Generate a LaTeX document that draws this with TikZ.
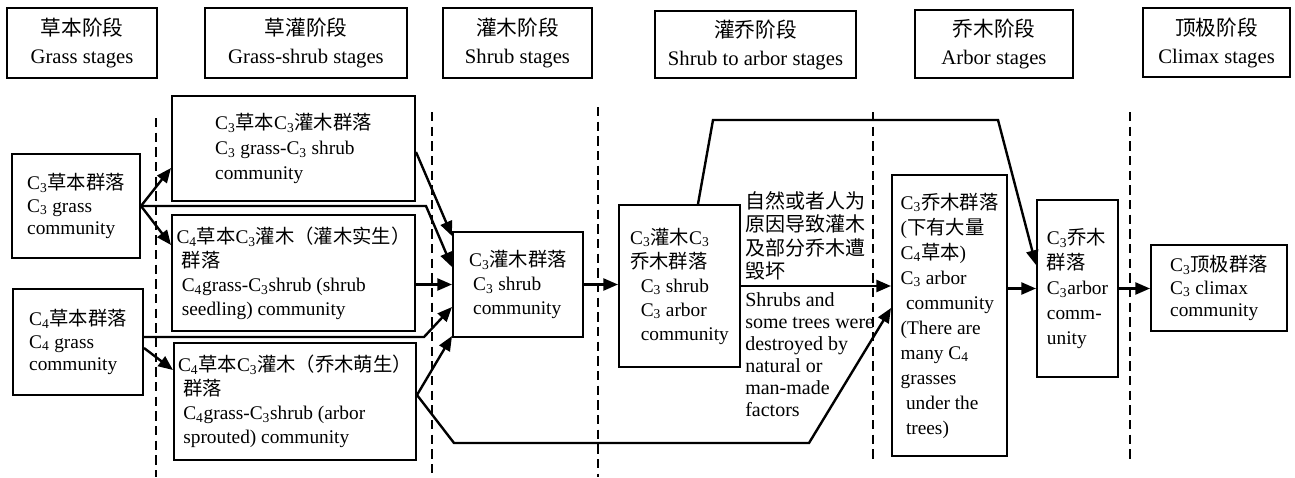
\documentclass[tikz,border=0pt]{standalone}
\usepackage{fontspec}
\setmainfont{Liberation Serif}
\newfontfamily\cjk{Noto Sans CJK SC}
\usetikzlibrary{arrows.meta,calc}
\newcommand\Csub[1]{C\textsubscript{#1}}
\begin{document}
\begin{tikzpicture}[x=0.75pt,y=-0.75pt,
  box/.style={draw,line width=1.5pt,inner sep=0pt,align=left,font=\fontsize{14.5pt}{18pt}\selectfont},
  hbox/.style={draw,line width=1.5pt,inner sep=0pt,align=center,font=\fontsize{15.5pt}{21pt}\selectfont},
  lbl/.style={inner sep=0pt,align=left,font=\fontsize{15pt}{17.6pt}\selectfont},
  arr/.style={line width=1.8pt,line join=miter,-{Triangle[length=11pt,width=9pt]}},
  sep/.style={line width=1.4pt,dash pattern=on 7pt off 4pt}]
\fill[white] (0,0) rectangle (1295,478);
\useasboundingbox (0,0) rectangle (1295,478);

% header boxes
\node[hbox,minimum width=150*0.75pt,minimum height=70*0.75pt] (h1) at (82,43) {{\cjk 草本阶段}\\Grass stages};
\node[hbox,minimum width=202*0.75pt,minimum height=70*0.75pt] (h2) at (306,43) {{\cjk 草灌阶段}\\Grass-shrub stages};
\node[hbox,minimum width=149*0.75pt,minimum height=70*0.75pt] (h3) at (517.5,43) {{\cjk 灌木阶段}\\Shrub stages};
\node[hbox,minimum width=201*0.75pt,minimum height=67*0.75pt] (h4) at (755.5,44.5) {{\cjk 灌乔阶段}\\Shrub to arbor stages};
\node[hbox,minimum width=158*0.75pt,minimum height=68*0.75pt] (h5) at (994,44) {{\cjk 乔木阶段}\\Arbor stages};
\node[hbox,minimum width=147*0.75pt,minimum height=69*0.75pt] (h6) at (1216.5,42.5) {{\cjk 顶极阶段}\\Climax stages};

% dashed stage separators
\draw[sep] (156,118) -- (156,477);
\draw[sep] (432,112) -- (432,477);
\draw[sep] (598,107) -- (598,477);
\draw[sep] (873,112) -- (873,463);
\draw[sep] (1130,112) -- (1130,463);

% community boxes
\node[box,minimum width=128*0.75pt,minimum height=104*0.75pt,font=\fontsize{14.5pt}{17pt}\selectfont] (A) at (76,206) {\Csub3{\cjk 草本群落}\\\Csub3 grass\\community};
\node[box,minimum width=130*0.75pt,minimum height=106*0.75pt,font=\fontsize{14.5pt}{17pt}\selectfont] (B) at (78,342) {\Csub4{\cjk 草本群落}\\\Csub4 grass\\community};
\node[box,minimum width=243*0.75pt,minimum height=105*0.75pt,font=\fontsize{14.5pt}{19pt}\selectfont] (C) at (293.5,148.5) {\Csub3{\cjk 草本}\Csub3{\cjk 灌木群落}\\\Csub3 grass-\Csub3 shrub\\community};
\node[box,minimum width=243*0.75pt,minimum height=116*0.75pt] (D) at (293.5,273) {\Csub4{\cjk 草本}\Csub3{\cjk 灌木（灌木实生）}\\\hspace*{4pt}{\cjk 群落}\\\hspace*{4pt}\Csub4grass-\Csub3shrub (shrub\\\hspace*{4pt}seedling) community};
\node[box,minimum width=242*0.75pt,minimum height=117*0.75pt] (E) at (295,401.5) {\Csub4{\cjk 草本}\Csub3{\cjk 灌木（乔木萌生）}\\\hspace*{4pt}{\cjk 群落}\\\hspace*{4pt}\Csub4grass-\Csub3shrub (arbor\\\hspace*{4pt}sprouted) community};
\node[box,minimum width=130*0.75pt,minimum height=105*0.75pt] (F) at (518,284.5) {\Csub3{\cjk 灌木群落}\\\hspace*{3pt}\Csub3 shrub\\\hspace*{3pt}community};
\node[box,minimum width=121*0.75pt,minimum height=162*0.75pt] (G) at (679.5,286) {\Csub3{\cjk 灌木}\Csub3\\{\cjk 乔木群落}\\\hspace*{8pt}\Csub3 shrub\\\hspace*{8pt}\Csub3 arbor\\\hspace*{8pt}community};
\node[box,minimum width=115*0.75pt,minimum height=281*0.75pt,font=\fontsize{14.5pt}{18.75pt}\selectfont] (I) at (949.5,315.5) {\Csub3{\cjk 乔木群落}\\({\cjk 下有大量}\\\Csub4{\cjk 草本})\\\Csub3 arbor\\\hspace*{4pt}community\\(There are\\many \Csub4\\grasses\\\hspace*{4pt}under the\\\hspace*{4pt}trees)};
\node[box,minimum width=81*0.75pt,minimum height=177*0.75pt,font=\fontsize{14.5pt}{18.75pt}\selectfont] (J) at (1077.5,288.5) {\Csub3{\cjk 乔木}\\{\cjk 群落}\\\Csub3arbor\\comm-\\unity};
\node[box,minimum width=136*0.75pt,minimum height=86*0.75pt,font=\fontsize{14.5pt}{17pt}\selectfont] (K) at (1219,288) {\Csub3{\cjk 顶极群落}\\\Csub3 climax\\community};

% labels on the G -> I connector
\node[lbl,anchor=north west] (zh) at (745,191) {{\cjk 自然或者人为}\\{\cjk 原因导致灌木}\\{\cjk 及部分乔木遭}\\{\cjk 毁坏}};
\node[lbl,anchor=north west,font=\fontsize{15pt}{16.5pt}\selectfont] (en) at (745,292) {Shrubs and\\some trees were\\destroyed by\\natural or\\man-made\\factors};

% connectors
\draw[arr] (A.east) -- ($(C.west)+(0,19.5)$);
\draw[arr] (A.east) -- ($(D.west)+(0,-28)$);
\draw[arr] (A.east) -- ++(285,0) -- ($(F.west)+(0,-17.5)$);
\draw[arr] ($(C.east)+(0,3.5)$) -- ($(F.north west)+(0,5)$);
\draw[arr] (F.west -| D.east) -- (F.west);
\draw[arr] ($(B.east)+(0,-5)$) -- ++(280,0) -- ($(F.west)+(0,22.5)$);
\draw[arr] ($(B.east)+(0,6)$) -- ($(E.west)+(0,-31.5)$);
\coordinate (e1) at ($(E.east)+(0,-6.5)$);
\draw[arr] (e1) -- ($(F.south west)+(0,-2)$);
\draw[arr] (e1) -- ++(37,48) -- ++(355,0) -- ($(I.west)+(0,-7.5)$);
\draw[arr] (F.east) -- (F.east -| G.west);
\draw[arr] ($(G.north)+(18.5,0)$) -- ++(15,-84) -- ++(285,0) -- ($(J.west)+(0,-23.5)$);
\draw[arr] (G.east) -- (G.east -| I.west);
\draw[arr] (J.west -| I.east) -- (J.west);
\draw[arr] (J.east) -- (J.east -| K.west);
\end{tikzpicture}
\end{document}
